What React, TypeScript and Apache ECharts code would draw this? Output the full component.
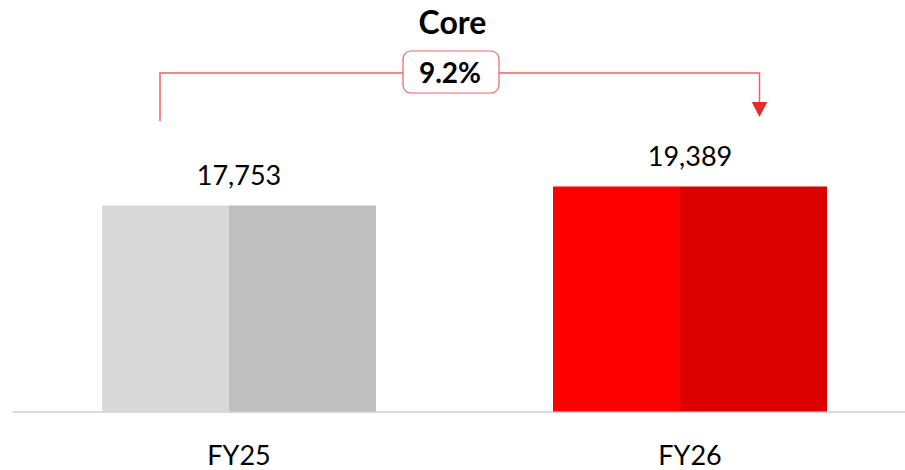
import React, { useEffect, useRef } from "react";
import * as echarts from "echarts";

const categories = ["FY25", "FY26"];
const values = [17753, 19389];
const lightColors = ["#D9D9D9", "#FF0000"];
const darkColors = ["#BFBFBF", "#DC0000"];
const titleText = "Core";

export default function App() {
  const ref = useRef<HTMLDivElement>(null);
  useEffect(() => {
    const chart = echarts.init(ref.current as HTMLDivElement, null, { renderer: "svg" });
    const growth = ((values[1] / values[0] - 1) * 100).toFixed(1) + "%";
    const split = 0.465;
    const lineColor = "#EF6060";
    chart.setOption({
      animation: false,
      title: {
        text: titleText,
        left: "center",
        top: 5,
        padding: [0, 0, 0, 3],
        textStyle: { fontFamily: "Lato", fontWeight: "bold", fontSize: 32, color: "#000" },
      },
      grid: { left: 13.5, width: 902, top: 179.3, height: 232.2, outerBoundsMode: "none" },
      xAxis: {
        type: "category",
        data: categories,
        axisTick: { show: false },
        axisLine: { lineStyle: { color: "#D9D9D9", width: 2 } },
        axisLabel: { margin: 29, fontFamily: "Lato", fontSize: 27, color: "#000" },
      },
      yAxis: { type: "value", min: 0, max: 20000, show: false, splitLine: { show: false } },
      series: [
        {
          type: "bar",
          barWidth: 274,
          data: values.map((v, i) => ({
            value: v,
            itemStyle: {
              color: new echarts.graphic.LinearGradient(0, 0, 1, 0, [
                { offset: 0, color: lightColors[i] },
                { offset: split, color: lightColors[i] },
                { offset: split, color: darkColors[i] },
                { offset: 1, color: darkColors[i] },
              ]),
            },
          })),
          label: {
            show: true,
            position: "top",
            distance: 17,
            fontFamily: "Lato",
            fontSize: 27,
            color: "#000",
            formatter: (p: any) => Number(p.value).toLocaleString("en-US"),
          },
        },
      ],
      graphic: [
        {
          type: "polyline",
          shape: { points: [[160, 121], [160, 73], [759.5, 73], [759.5, 103]] },
          style: { stroke: lineColor, lineWidth: 1.5, fill: null },
        },
        {
          type: "polygon",
          shape: { points: [[751.7, 102], [767.3, 102], [759.5, 117]] },
          style: { fill: "#E52B2B" },
        },
        {
          type: "rect",
          shape: { x: 403, y: 51, width: 96, height: 42, r: 8 },
          style: { fill: "#fff", stroke: lineColor, lineWidth: 1.2 },
        },
        {
          type: "text",
          x: 450,
          y: 72,
          style: {
            text: growth,
            align: "center",
            verticalAlign: "middle",
            fontFamily: "Lato",
            fontWeight: "bold",
            fontSize: 28,
            fill: "#000",
          },
        },
      ],
    });
    return () => chart.dispose();
  }, []);
  return <div ref={ref} style={{ position: "absolute", left: 0, top: 0, width: 905, height: 470 }} />;
}
